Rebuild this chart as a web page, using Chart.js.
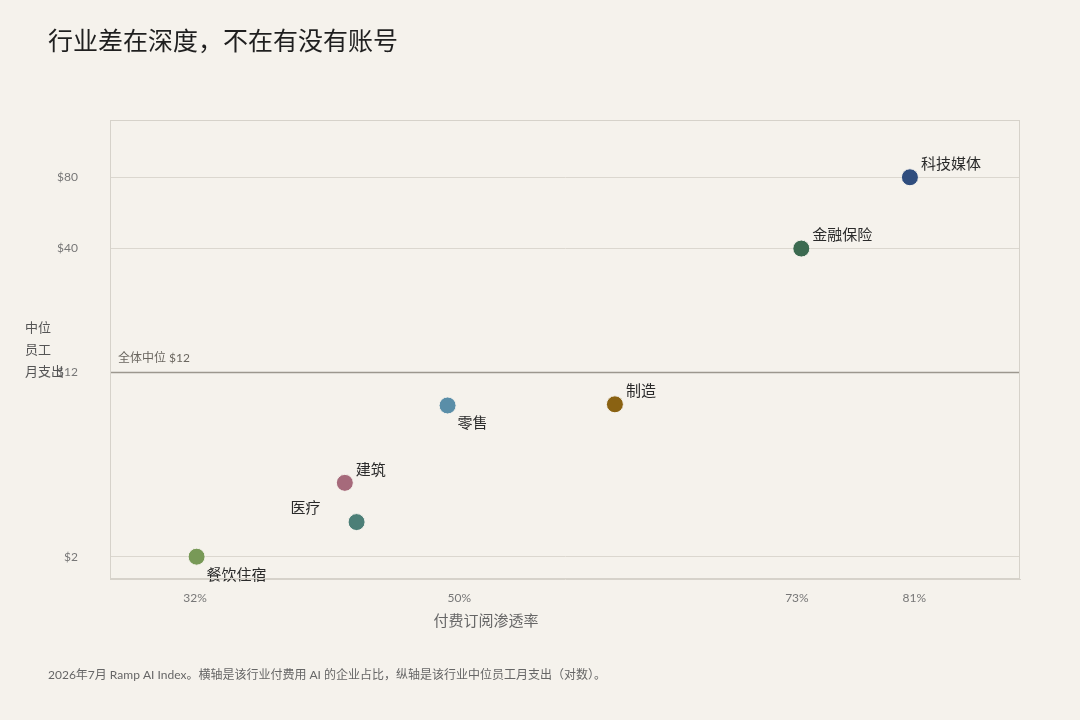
<!DOCTYPE html>
<html><head><meta charset="utf-8">
<script src="https://cdn.jsdelivr.net/npm/chart.js@4"></script>
<style>html,body{margin:0;background:#f5f2ec;}#w{position:relative;width:1080px;height:720px;}</style>
</head><body><div id="w"><canvas id="c" width="1080" height="720"></canvas></div>
<script>
const industries = ["科技媒体","金融保险","制造","零售","建筑","医疗","餐饮住宿"];
const penetration = [80.7,73.3,60.6,49.2,42.2,43.0,32.1];
const spend = [80,40,8.8,8.7,4.1,2.8,2];
const colors = ["#2f4d7e","#3b6a50","#8a6212","#5a8ea8","#a66a7b","#4c7f77","#789957"];
const labelPos = ["tr","tr","tr","br","tr","tl","br"];
const xTicks = [32,50,73,81];
const yTicks = [2,12,40,80];
const median = 12;
const F = "Lato, 'Noto Sans CJK SC', sans-serif";
const ann = {
  id:'ann',
  afterDatasetsDraw(ch){
    const c=ch.ctx, x=ch.scales.x, y=ch.scales.y, a=ch.chartArea;
    c.save();
    c.fillStyle="#1f1f1f"; c.font="400 25px "+F; c.textBaseline="middle";
    c.fillText("行业差在深度，不在有没有账号",48,42);
    const my=y.getPixelForValue(median);
    c.strokeStyle="#9c978e"; c.lineWidth=1.5; c.beginPath(); c.moveTo(a.left,my); c.lineTo(a.right,my); c.stroke();
    c.fillStyle="#6a665f"; c.font="12px "+F; c.textBaseline="alphabetic";
    c.fillText("全体中位 $12",118,362);
    c.font="13px "+F; c.fillStyle="#555";
    ["中位","员工","月支出"].forEach((t,i)=>c.fillText(t,25,332+i*22));
    c.font="12px "+F; c.fillStyle="#666";
    c.fillText("2026年7月 Ramp AI Index。横轴是该行业付费用 AI 的企业占比，纵轴是该行业中位员工月支出（对数）。",48,679);
    c.font="15px "+F; c.fillStyle="#666"; c.textAlign="center"; c.textBaseline="middle";
    c.fillText("付费订阅渗透率",486,621);
    c.font="15px "+F; c.fillStyle="#2a2a2a";
    industries.forEach((n,i)=>{
      const px=x.getPixelForValue(penetration[i]), py=y.getPixelForValue(spend[i]);
      const p=labelPos[i];
      if(p==="tr"){c.textAlign="left";c.fillText(n,px+11,py-13);}
      else if(p==="br"){c.textAlign="left";c.fillText(n,px+10,py+18);}
      else {c.textAlign="right";c.fillText(n,px-36,py-14);}
    });
    c.restore();
  }
};
new Chart(document.getElementById('c'),{
  type:'scatter',
  data:{datasets:[{data:penetration.map((v,i)=>({x:v,y:spend[i]})),
    backgroundColor:colors,borderColor:"#f5f2ec",borderWidth:1,pointRadius:8.5,pointHoverRadius:8.5}]},
  options:{responsive:false,animation:false,
    layout:{padding:{top:120,right:60,left:0,bottom:0}},
    plugins:{legend:{display:false},tooltip:{enabled:false}},
    scales:{
      x:{type:'linear',min:26.2,max:88.2,
        afterBuildTicks(s){s.ticks=xTicks.map(v=>({value:v}));},
        afterFit(s){s.height=141;},
        grid:{display:false,drawTicks:false},border:{color:"#d6d2ca"},
        ticks:{padding:12,color:"#777",font:{family:F,size:12},callback:v=>v+"%"}},
      y:{type:'logarithmic',min:1.61,max:139.6,
        afterBuildTicks(s){s.ticks=yTicks.map(v=>({value:v}));},
        afterFit(s){s.width=110;},
        grid:{color:"#dbd7cf",drawTicks:false},border:{color:"#d6d2ca"},
        ticks:{padding:32,color:"#777",font:{family:F,size:12},callback:v=>"$"+v}}
    }},
  plugins:[ann,{id:'box',afterDraw(ch){const a=ch.chartArea,c=ch.ctx;c.save();c.strokeStyle="#d6d2ca";c.lineWidth=1;c.strokeRect(a.left+0.5,a.top+0.5,a.width-1,a.height-1);c.restore();}}]
});
</script></body></html>
